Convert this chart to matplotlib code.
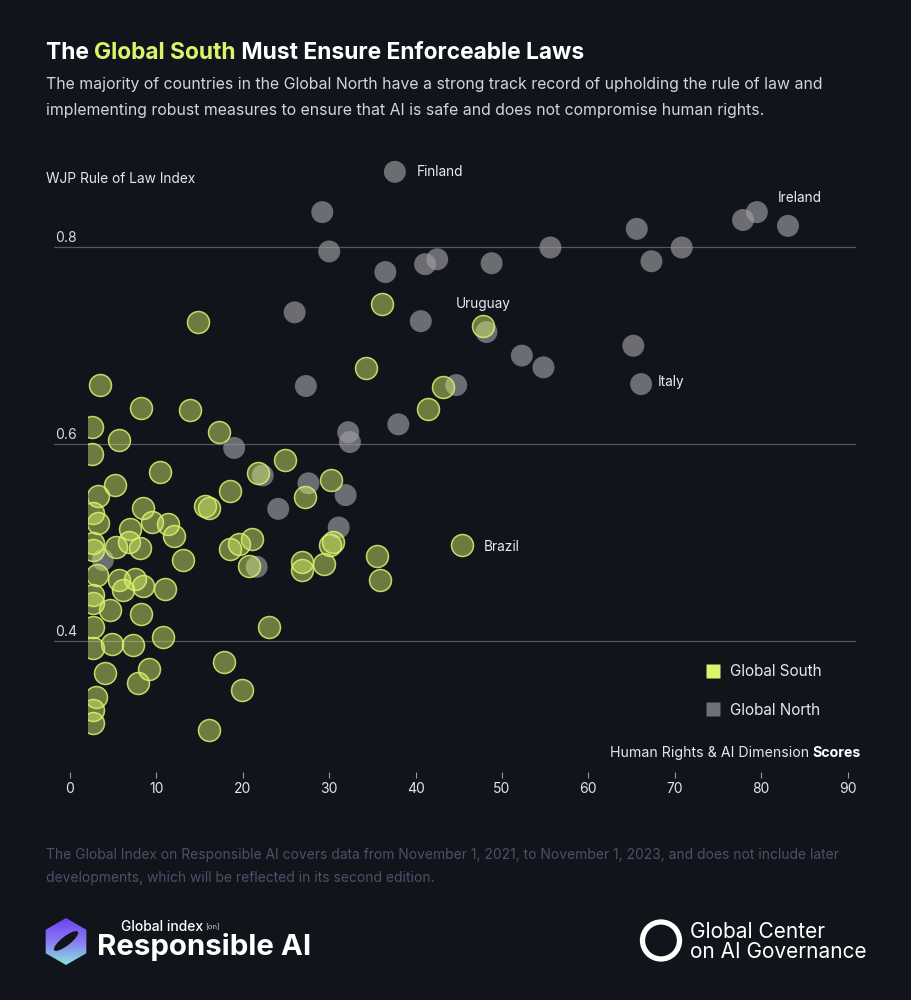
import numpy as np
import matplotlib
matplotlib.use("Agg")
import matplotlib.pyplot as plt
from matplotlib.patches import Rectangle, Polygon, Ellipse, Circle
from matplotlib.text import Annotation
from matplotlib.lines import Line2D
from matplotlib.colors import LinearSegmentedColormap

plt.rcParams['font.family'] = ['Inter', 'DejaVu Sans']

# ---------------- datos ----------------
south_x = [14.8, 3.5, 8.2, 13.9, 17.3, 2.6, 5.7, 2.6, 10.4, 24.9,
           21.8, 5.2, 3.2, 18.5, 15.6, 16.1, 8.5, 2.7, 3.2, 9.5,
           11.3, 6.9, 12.0, 6.8, 8.1, 5.3, 2.7, 2.7, 13.1, 18.5,
           19.6, 21.1, 20.7, 26.9, 26.9, 29.4, 30.1, 30.4, 3.1, 5.7,
           7.5, 8.5, 6.1, 11.0, 2.7, 2.7, 4.6, 8.2, 2.7, 23.0,
           2.7, 4.9, 7.3, 10.8, 17.8, 19.9, 16.1, 4.1, 9.1, 7.9,
           3.0, 2.7, 2.7, 30.2, 27.2, 34.3, 36.1, 43.2, 41.4, 47.8,
           45.4, 35.5, 35.9]
south_y = [0.724, 0.660, 0.637, 0.635, 0.612, 0.617, 0.604, 0.590, 0.571, 0.584,
           0.570, 0.558, 0.547, 0.552, 0.537, 0.535, 0.535, 0.530, 0.520, 0.521,
           0.519, 0.513, 0.506, 0.500, 0.494, 0.495, 0.492, 0.499, 0.482, 0.493,
           0.498, 0.503, 0.476, 0.480, 0.472, 0.478, 0.497, 0.500, 0.467, 0.462,
           0.463, 0.455, 0.451, 0.452, 0.446, 0.438, 0.431, 0.427, 0.414, 0.414,
           0.392, 0.396, 0.395, 0.404, 0.378, 0.350, 0.309, 0.367, 0.371, 0.357,
           0.343, 0.329, 0.316, 0.563, 0.546, 0.677, 0.742, 0.658, 0.636, 0.720,
           0.497, 0.486, 0.462]

north_x = [37.6, 29.2, 30.0, 36.5, 41.1, 42.5, 48.8, 55.6, 65.6, 67.3,
           70.8, 77.9, 79.5, 83.1, 26.0, 40.6, 48.2, 52.3, 54.8, 65.2,
           66.1, 27.3, 44.7, 38.0, 32.2, 32.4, 19.0, 22.3, 27.6, 31.9,
           24.1, 31.1, 21.6, 3.8]
north_y = [0.877, 0.836, 0.796, 0.775, 0.783, 0.788, 0.784, 0.800, 0.819, 0.786,
           0.800, 0.828, 0.836, 0.822, 0.734, 0.725, 0.714, 0.690, 0.678, 0.700,
           0.661, 0.659, 0.660, 0.620, 0.612, 0.602, 0.596, 0.568, 0.560, 0.548,
           0.534, 0.515, 0.475, 0.482]

label_names = ['Finland', 'Ireland', 'Uruguay', 'Italy', 'Brazil']
label_x = [37.6, 83.1, 47.8, 66.1, 45.4]
label_y = [0.877, 0.822, 0.720, 0.661, 0.497]

x_ticks = [0, 10, 20, 30, 40, 50, 60, 70, 80, 90]
y_ticks = [0.4, 0.6, 0.8]
y_tick_labels = ['0.4', '0.6', '0.8']

# ---------------- estilo ----------------
bg = '#12141c'
lime = '#d9f56b'
W, H = 912, 1000
label_offsets = [(22, 0), (-10, 28), (-27, 22), (17, 2), (21, -2)]  # en pixeles


def fx(px):
    return px / W


def fy(py):
    return 1 - py / H


fig = plt.figure(figsize=(W / 100, H / 100), dpi=100, facecolor=bg)

# capa de fondo para logos (coordenadas en pixeles)
ov = fig.add_axes([0, 0, 1, 1])
ov.set_facecolor('none')
ov.axis('off')

ax = fig.add_axes([fx(54), fy(778), (856 - 54) / W, (778 - 150) / H])
ax.set_facecolor('none')
ax.set_xlim((54 - 70) / 8.64, (856 - 70) / 8.64)
ax.set_ylim(0.6 + (444 - 778) / 982.5, 0.6 + (444 - 150) / 982.5)
for s in ax.spines.values():
    s.set_visible(False)

for v, t in zip(y_ticks, y_tick_labels):
    ax.axhline(v, color='#55575f', lw=0.9, zorder=0)
    ax.annotate(t, xy=(0, v), xycoords=ax.get_yaxis_transform(),
                xytext=(1, 5), textcoords='offset pixels',
                ha='left', va='baseline', fontsize=10, color='#d8d8dc')

ax.set_xticks(x_ticks)
ax.tick_params(axis='x', direction='in', length=4, width=0.8, color='#9a9aa0',
               labelcolor='#e4e4e8', labelsize=10, pad=3)
ax.tick_params(axis='y', left=False, labelleft=False)

clip = Rectangle(((88 - 54) / (856 - 54), 0), 1, 1, transform=ax.transAxes)

n = ax.scatter(north_x, north_y, s=250, facecolor=(0.62, 0.62, 0.64, 0.65),
               edgecolor='none', zorder=2)
sth = ax.scatter(south_x, south_y, s=250, facecolor=(0.85, 0.96, 0.42, 0.46),
                 edgecolor=(0.85, 0.96, 0.42, 0.85), linewidth=1.1, zorder=3)
n.set_clip_path(clip)
sth.set_clip_path(clip)

for name, lx, ly, off in zip(label_names, label_x, label_y, label_offsets):
    ax.annotate(name, xy=(lx, ly), xytext=off, textcoords='offset pixels',
                ha='left', va='center', fontsize=9.8, color='#ececf0', zorder=5)

# ---------------- textos ----------------
def encadena(prev, s, **kw):
    a = Annotation(s, xy=(1, 0), xycoords=prev, ha='left', va='bottom', **kw)
    fig.add_artist(a)
    return a


t1 = fig.text(fx(46), fy(53), 'The ', fontsize=16.4, fontweight='bold', color='white', va='center')
t2 = encadena(t1, 'Global South', fontsize=16.4, fontweight='bold', color=lime)
encadena(t2, ' Must Ensure Enforceable Laws', fontsize=16.4, fontweight='bold', color='white')

fig.text(fx(46), fy(85), 'The majority of countries in the Global North have a strong track record of upholding the rule of law and',
         fontsize=11.4, color='#d4d4da', va='center')
fig.text(fx(46), fy(110), 'implementing robust measures to ensure that AI is safe and does not compromise human rights.',
         fontsize=11.4, color='#d4d4da', va='center')

fig.text(fx(46), fy(179), 'WJP Rule of Law Index', fontsize=9.9, color='#e6e6ea', va='center')

sc = fig.text(fx(861), fy(753), 'Scores', fontsize=10.2, fontweight='bold', color='white',
              ha='right', va='center')
a = Annotation('Human Rights & AI Dimension ', xy=(0, 0), xycoords=sc, ha='right', va='bottom',
               fontsize=10.2, color='#e6e6ea')
fig.add_artist(a)

handles = [Line2D([], [], marker='s', ls='none', markersize=10, markerfacecolor=lime, markeredgecolor='none'),
           Line2D([], [], marker='s', ls='none', markersize=10, markerfacecolor='#6e7076', markeredgecolor='none')]
fig.legend(handles, ['Global South', 'Global North'], loc='upper left',
           bbox_to_anchor=(fx(706), fy(664)), frameon=False, fontsize=11,
           labelcolor='#e8e8ec', labelspacing=1.55, handletextpad=0.65,
           handlelength=0.95, borderpad=0, borderaxespad=0)

fig.text(fx(46), fy(855), 'The Global Index on Responsible AI covers data from November 1, 2021, to November 1, 2023, and does not include later',
         fontsize=9.95, color='#4c5068', va='center')
fig.text(fx(46), fy(878), 'developments, which will be reflected in its second edition.',
         fontsize=9.95, color='#4c5068', va='center')

# ---------------- logos ----------------
ang = np.radians(90 + 60 * np.arange(6))
hexa = Polygon(np.column_stack([66 + 23.5 * np.cos(ang), 941.5 - 23.5 * np.sin(ang)]),
               closed=True, facecolor='none', edgecolor='none')
ov.add_patch(hexa)
cmap = LinearSegmentedColormap.from_list('g', ['#6a3ff0', '#8a7af2', '#86f0da'])
im = ov.imshow(np.linspace(0, 1, 100).reshape(-1, 1), extent=(40, 92, 967, 916),
               cmap=cmap, aspect='auto', origin='upper')
im.set_clip_path(hexa)
ov.add_patch(Ellipse((66, 941), 30, 9, angle=-38, facecolor=bg, edgecolor='none'))

fig.text(fx(121), fy(927), 'Global index', fontsize=10, fontweight='medium', color='white', va='center')
fig.text(fx(205), fy(927), '[on]', fontsize=5.5, color='#cccccc', va='center')
fig.text(fx(97), fy(955), 'Responsible AI', fontsize=21.2, fontweight='bold', color='white', va='baseline')

ov.add_patch(Circle((661, 940.5), 18.5, facecolor='none', edgecolor='white', lw=3.8))
fig.text(fx(690), fy(938), 'Global Center', fontsize=15, color='white', va='baseline')
fig.text(fx(690), fy(958), 'on AI Governance', fontsize=15, color='white', va='baseline')

ov.set_xlim(0, W)
ov.set_ylim(H, 0)

fig.savefig('out.png', dpi=100, facecolor=bg)
